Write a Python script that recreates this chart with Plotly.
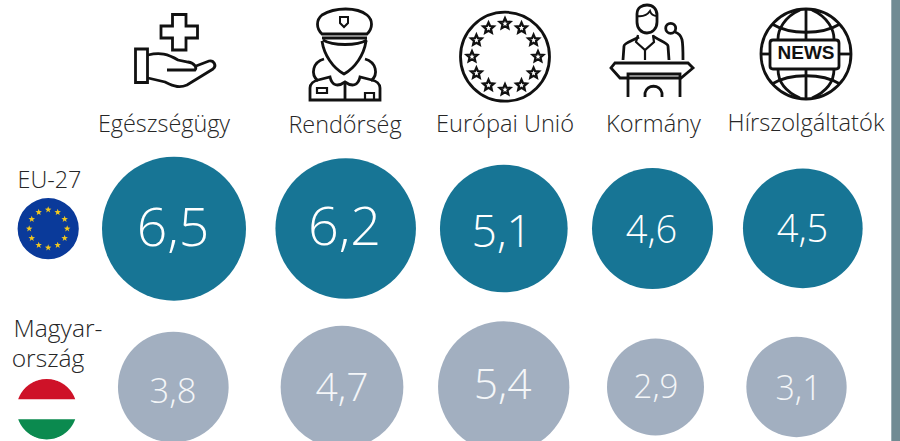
import numpy as np
import plotly.graph_objects as go

# ---- data ----
categories = ["Egészségügy", "Rendőrség", "Európai Unió", "Kormány", "Hírszolgáltatók"]
eu_values = [6.5, 6.2, 5.1, 4.6, 4.5]
hu_values = [3.8, 4.7, 5.4, 2.9, 3.1]
row_labels = ["EU-27", "Magyar-", "ország"]

# ---- layout of the marks (pixel scale of the axes) ----
eu_x = [174, 345.7, 503.8, 652.5, 802.8]
hu_x = [173.3, 342, 503.7, 655.5, 796.5]
eu_y = [228.7, 228.5, 228.5, 228.5, 228.3]
hu_y = [387, 387, 387, 387, 387]
eu_d = [144, 140.5, 127.7, 121, 119.7]
hu_d = [110.7, 122.7, 131.3, 97, 100.3]
eu_tx = [173, 344.5, 501.7, 651.5, 802.5]
hu_tx = [173, 342, 502.7, 656, 798.5]
eu_ty = [233, 231, 235.5, 233.5, 232]
hu_ty = [394, 391, 388.5, 389.5, 391.5]
eu_fs = [53.5, 54, 44.5, 38, 38]
hu_fs = [34.5, 39, 42.5, 33, 34]
cat_x = [164, 345, 505, 653.5, 806]
cat_y = [126, 127, 126, 126, 125]
row_x = [49.5, 58, 48]
row_y = [182, 331, 361]
cat_fs = [23.4, 23.4, 23.6, 23.6, 23.7]
row_fs = [23.4, 24.6, 24.6]

TEAL = "#177595"
GREY = "#a2afc0"
INK = "#111111"
FONT = "Open Sans"


def comma(v):
    return f"{v:.1f}".replace(".", ",")


def poly(pts):
    return "M" + " L".join(f"{x:.2f},{y:.2f}" for x, y in pts) + " Z"


def star(cx, cy, R, r):
    a = -np.pi / 2 + np.arange(10) * np.pi / 5
    rad = np.where(np.arange(10) % 2 == 0, R, r)
    return poly(list(zip(cx + rad * np.cos(a), cy + rad * np.sin(a))))


def ring_positions(cx, cy, R, n=12):
    a = np.arange(n) * 2 * np.pi / n
    return list(zip(cx + R * np.sin(a), cy - R * np.cos(a)))


def band(cx, cy, r, y0, y1):
    ys = np.linspace(y0, y1, 60)
    dx = np.sqrt(np.clip(r * r - (ys - cy) ** 2, 0, None))
    return poly(list(zip(cx + dx, ys)) + list(zip(cx - dx[::-1], ys[::-1])))


shapes = []


def stroke(path, width=2.8):
    shapes.append(dict(type="path", path=path, xref="x", yref="y",
                       line=dict(color=INK, width=width), fillcolor="rgba(0,0,0,0)"))


def fill(path, color):
    shapes.append(dict(type="path", path=path, xref="x", yref="y",
                       line=dict(width=0), fillcolor=color))


def circle(cx, cy, r, fillcolor=None, width=2.8):
    shapes.append(dict(type="circle", xref="x", yref="y",
                       x0=cx - r, x1=cx + r, y0=cy - r, y1=cy + r,
                       fillcolor=fillcolor or "rgba(0,0,0,0)",
                       line=dict(color=INK, width=width if fillcolor is None else 0)))


# right-hand bar
shapes.append(dict(type="rect", xref="x", yref="y", x0=891.3, x1=900, y0=0, y1=441,
                   fillcolor="#718b93", line=dict(width=0)))

# health icon
stroke("M172.5,14.5 L186,14.5 L186,26 L197.5,26 L197.5,38 L186,38 L186,50 L172.5,50 "
       "L172.5,38 L161,38 L161,26 L172.5,26 Z")
stroke("M135.5,49 L147.5,49 L147.5,82.5 L135.5,82.5 Z")
stroke("M148,55 C160,52 168,54 178,60 L188,62 C195,63 197,68 195,70 L167,70")
stroke("M148,78 L165,82 C175,87 180,88 187,85 L213,69 C217,66 214,60 209,61 L196,66")

# police icon
stroke("M322,34 C316,28 316,20 322,15 C335,7 357,7 367,15 C373,20 373,28 367,34 Z")
stroke("M322,38 L367,38")
stroke("M323,40 C333,46 357,46 367,40")
stroke("M322,41 C324,55 333,68 344,74 C355,68 364,55 366,41")
stroke("M340,17 L348,17 L348,23 L344,27 L340,23 Z", 2)
stroke("M324,59 C313,62 310,74 318,81")
stroke("M365,59 C376,62 379,74 371,81")
stroke("M310,100 L310,88 C310,84 314,81 318,80 L330,77 C332,86 338,87 345,82 "
       "C352,87 358,86 360,77 L372,80 C376,81 380,84 380,88 L380,100 Z")
stroke("M345,83 L345,100")
stroke("M317,88 L327,88 L327,93 L317,93 Z", 2.2)
stroke("M365,100 L365,93 L374,93 L374,100", 2.2)

# EU ring icon
circle(505, 56.7, 44.5)
for sx, sy in ring_positions(505, 56.7, 33):
    stroke(star(sx, sy, 5.6, 2.6), 2.3)

# speaker icon
stroke("M637,14 C637,7 643,5 647,5 C653,5 657,9 657,15 L657,22 C657,29 652,33 647,33 "
       "C641,33 637,28 637,22 Z")
stroke("M637,16 C644,17 648,14 650,11 C651,14 654,16 657,16", 2)
stroke("M623,60 L624,46 C624,43 634,40 639,37")
stroke("M669,60 L668,46 C668,43 658,40 653,36")
stroke("M638,35 L636,42 L645,50 L654,42 L653,35", 2.2)
stroke("M645,50 L645,60", 2.2)
circle(670.7, 28.3, 5)
stroke("M675,32 C683,35 683,40 683,60")
stroke("M615,63 L688,63 L693,68 L681,78 L620,78 L611,68 Z")
stroke("M628,97 L628,74 L680,74 L680,97")
stroke("M645,97 L645,93 C647,84 660,84 662,93 L662,97")

# news icon
circle(806, 54, 45)
stroke("M806,9 L806,39")
stroke("M806,69 L806,99")
stroke("M772,24 C790,35 822,35 840,24")
stroke("M772,84 C790,73 822,73 840,84")
stroke("M800,10 C784,17 778,30 778,39")
stroke("M812,10 C828,17 834,30 834,39")
stroke("M778,69 C778,80 784,91 800,98")
stroke("M834,69 C834,80 828,91 812,98")
stroke("M773,40 L836,40 C838,40 839,41 839,43 L839,66 C839,68 838,69 836,69 L773,69 "
       "C771,69 770,68 770,66 L770,43 C770,41 771,40 773,40 Z")
stroke("M761,54 L770,54")
stroke("M839,54 L851,54")

# EU flag
circle(48.2, 228.7, 30.6, fillcolor="#0a3a9a")
for sx, sy in ring_positions(48.2, 228.7, 19):
    fill(star(sx, sy, 3.4, 1.4), "#f2c81e")

# Hungarian flag
fill(band(46.7, 409.2, 30.2, 379, 399.3), "#ce1228")
fill(band(46.7, 409.2, 30.2, 419.3, 439.4), "#0b8a4f")

fig = go.Figure()
fig.add_trace(go.Scatter(x=eu_x, y=eu_y, mode="markers", name="EU-27", customdata=eu_values,
                         marker=dict(size=eu_d, color=TEAL, opacity=1, line=dict(width=0))))
fig.add_trace(go.Scatter(x=hu_x, y=hu_y, mode="markers", name="Magyarország", customdata=hu_values,
                         marker=dict(size=hu_d, color=GREY, opacity=1, line=dict(width=0))))
fig.add_trace(go.Scatter(x=eu_tx, y=eu_ty, mode="text", text=[comma(v) for v in eu_values],
                         textposition="middle center",
                         textfont=dict(family=FONT, size=eu_fs, color="#ffffff", weight=300)))
fig.add_trace(go.Scatter(x=hu_tx, y=hu_ty, mode="text", text=[comma(v) for v in hu_values],
                         textposition="middle center",
                         textfont=dict(family=FONT, size=hu_fs, color="#f4f6f8", weight=300)))
fig.add_trace(go.Scatter(x=cat_x, y=cat_y, mode="text", text=categories,
                         textposition="middle center",
                         textfont=dict(family=FONT, size=cat_fs, color="#262626", weight=300)))
fig.add_trace(go.Scatter(x=row_x, y=row_y, mode="text", text=row_labels,
                         textposition="middle center",
                         textfont=dict(family=FONT, size=row_fs, color="#262626", weight=300)))
fig.add_trace(go.Scatter(x=[806], y=[54.5], mode="text", text=["NEWS"],
                         textposition="middle center",
                         textfont=dict(family="Liberation Sans", size=19, color=INK, weight=700)))

fig.update_layout(
    width=900, height=441, margin=dict(l=0, r=0, t=0, b=0),
    paper_bgcolor="white", plot_bgcolor="white", showlegend=False,
    shapes=shapes,
    xaxis=dict(range=[0, 900], visible=False, fixedrange=True),
    yaxis=dict(range=[441, 0], visible=False, fixedrange=True),
    hovermode=False,
)
fig.write_html("out.html", config=dict(displayModeBar=False),
               post_script="document.body.style.margin='0';document.body.style.overflow='hidden';")
